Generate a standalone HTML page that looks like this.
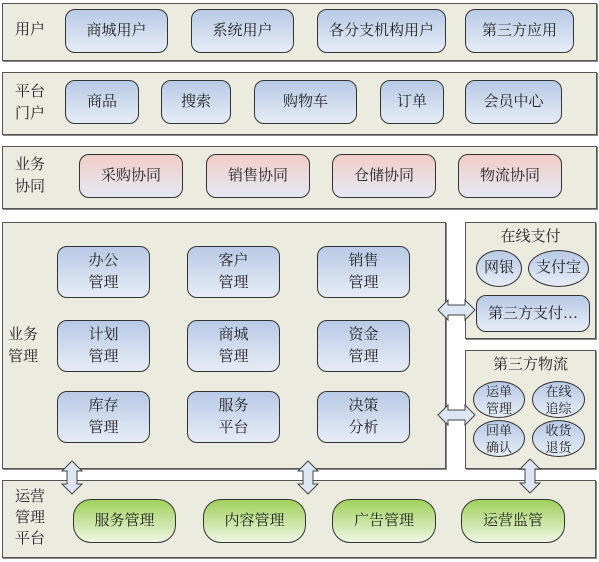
<!DOCTYPE html>
<html><head><meta charset="utf-8"><style>
body{margin:0;width:599px;height:562px;background:#fff;position:relative;overflow:hidden;font-family:"Liberation Serif","Noto Serif CJK SC","Noto Sans CJK SC",serif;color:#222}
.p{position:absolute;background:#ecebe0;border:1px solid #555;box-shadow:1px 1px 0 #888;box-sizing:border-box}
.b{position:absolute;box-sizing:border-box;border:1px solid #333;border-radius:10px;background:linear-gradient(#b8cae6,#e6ecf6);display:flex;align-items:center;justify-content:center;text-align:center;font-size:15px;line-height:22px}
.r{background:linear-gradient(#f2cdc6,#e4e8f4)}
.g{background:linear-gradient(#9fd15a,#eef6e4);border-radius:18px}
.e{border-radius:50%;font-size:13px;line-height:17px}
.l{position:absolute;font-size:15px;line-height:22px}
</style></head><body>
<div class="p" style="left:2px;top:3px;width:595px;height:58px"></div>
<div class="l" style="left:15px;top:19px">用户</div>
<div class="b" style="left:65px;top:9px;width:103px;height:44px">商城用户</div>
<div class="b" style="left:191px;top:9px;width:103px;height:44px">系统用户</div>
<div class="b" style="left:317px;top:9px;width:129px;height:44px">各分支机构用户</div>
<div class="b" style="left:465px;top:9px;width:109px;height:44px">第三方应用</div>

<div class="p" style="left:2px;top:72px;width:595px;height:63px"></div>
<div class="l" style="left:15px;top:81px">平台<br>门户</div>
<div class="b" style="left:65px;top:80px;width:74px;height:44px">商品</div>
<div class="b" style="left:161px;top:80px;width:70px;height:44px">搜索</div>
<div class="b" style="left:254px;top:80px;width:103px;height:44px">购物车</div>
<div class="b" style="left:380px;top:80px;width:64px;height:44px">订单</div>
<div class="b" style="left:465px;top:80px;width:97px;height:44px">会员中心</div>

<div class="p" style="left:2px;top:146px;width:595px;height:63px"></div>
<div class="l" style="left:15px;top:154px">业务<br>协同</div>
<div class="b r" style="left:79px;top:154px;width:104px;height:44px">采购协同</div>
<div class="b r" style="left:206px;top:154px;width:104px;height:44px">销售协同</div>
<div class="b r" style="left:332px;top:154px;width:104px;height:44px">仓储协同</div>
<div class="b r" style="left:458px;top:154px;width:104px;height:44px">物流协同</div>

<div class="p" style="left:2px;top:222px;width:444px;height:247px"></div>
<div class="l" style="left:8px;top:324px">业务<br>管理</div>
<div class="b" style="left:57px;top:246px;width:93px;height:52px">办公<br>管理</div>
<div class="b" style="left:187px;top:246px;width:93px;height:52px">客户<br>管理</div>
<div class="b" style="left:317px;top:246px;width:93px;height:52px">销售<br>管理</div>
<div class="b" style="left:57px;top:320px;width:93px;height:52px">计划<br>管理</div>
<div class="b" style="left:187px;top:320px;width:93px;height:52px">商城<br>管理</div>
<div class="b" style="left:317px;top:320px;width:93px;height:52px">资金<br>管理</div>
<div class="b" style="left:57px;top:391px;width:93px;height:52px">库存<br>管理</div>
<div class="b" style="left:187px;top:391px;width:93px;height:52px">服务<br>平台</div>
<div class="b" style="left:317px;top:391px;width:93px;height:52px">决策<br>分析</div>

<div class="p" style="left:465px;top:222px;width:131px;height:117px"></div>
<div class="l" style="left:465px;width:131px;text-align:center;top:226px">在线支付</div>
<div class="b e" style="left:476px;top:250px;width:46px;height:37px;font-size:15px">网银</div>
<div class="b e" style="left:528px;top:250px;width:61px;height:37px;font-size:15px">支付宝</div>
<div class="b" style="left:476px;top:295px;width:114px;height:37px">第三方支付…</div>

<div class="p" style="left:465px;top:350px;width:131px;height:119px"></div>
<div class="l" style="left:465px;width:131px;text-align:center;top:354px">第三方物流</div>
<div class="b e" style="left:473px;top:381px;width:52px;height:37px">运单<br>管理</div>
<div class="b e" style="left:532px;top:381px;width:53px;height:37px">在线<br>追综</div>
<div class="b e" style="left:473px;top:420px;width:52px;height:37px">回单<br>确认</div>
<div class="b e" style="left:532px;top:420px;width:53px;height:37px">收货<br>退货</div>

<div class="p" style="left:2px;top:480px;width:594px;height:78px"></div>
<div class="l" style="left:15px;top:487px;line-height:21px">运营<br>管理<br>平台</div>
<div class="b g" style="left:73px;top:499px;width:103px;height:44px">服务管理</div>
<div class="b g" style="left:203px;top:499px;width:103px;height:44px">内容管理</div>
<div class="b g" style="left:332px;top:499px;width:104px;height:44px">广告管理</div>
<div class="b g" style="left:461px;top:499px;width:104px;height:44px">运营监管</div>

<svg width="599" height="562" style="position:absolute;left:0;top:0">
<g fill="#dde6f3" stroke="#444" stroke-width="1">
<polygon points="438,310 448,300 448,305 465,305 465,300 475,310 465,320 465,315 448,315 448,320"/>
<polygon points="438,415 448,405 448,410 465,410 465,405 475,415 465,425 465,420 448,420 448,425"/>
<polygon points="72,461 82,471 77,471 77,484 82,484 72,494 62,484 67,484 67,471 62,471"/>
<polygon points="308,461 318,471 313,471 313,484 318,484 308,494 298,484 303,484 303,471 298,471"/>
<polygon points="530,459 540,469 535,469 535,483 540,483 530,493 520,483 525,483 525,469 520,469"/>
</g></svg>
</body></html>
